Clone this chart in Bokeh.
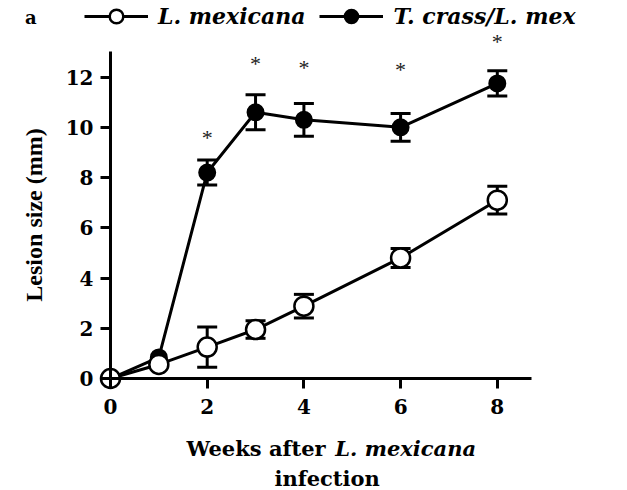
from bokeh.plotting import figure
from bokeh.models import (ColumnDataSource, Legend, LegendItem, Label, Range1d,
                          FixedTicker)
from bokeh.core.properties import value
from bokeh.embed import file_html
from bokeh.resources import INLINE

# Lesion size (mm) by weeks after L. mexicana infection
weeks = [0, 1, 2, 3, 4, 6, 8]
lmex_mean = [0.0, 0.56, 1.25, 1.95, 2.88, 4.80, 7.10]
lmex_err = [0.0, 0.0, 0.80, 0.35, 0.47, 0.38, 0.55]
tcrass_mean = [0.0, 0.84, 8.20, 10.60, 10.30, 10.00, 11.75]
tcrass_err = [0.0, 0.0, 0.50, 0.70, 0.65, 0.55, 0.50]

# significance markers
sig_weeks = [2, 3, 4, 6, 8]
sig_y = [9.8, 12.75, 12.6, 12.5, 13.6]

x_ticks = [0, 2, 4, 6, 8]
y_ticks = [0, 2, 4, 6, 8, 10, 12]

SERIF = "DejaVu Serif"

# the plotting frame spans the whole canvas; the axes cross at the origin
p = figure(width=627, height=490, output_backend="svg", toolbar_location=None,
           x_range=Range1d(-2.275, 10.693), y_range=Range1d(-4.459, 15.05),
           min_border_left=0, min_border_right=0,
           min_border_top=0, min_border_bottom=0)
p.outline_line_color = None
p.grid.visible = False
p.background_fill_color = "white"
p.border_fill_color = "white"

for ax in (p.xaxis[0], p.yaxis[0]):
    ax.fixed_location = 0
    ax.axis_line_width = 3
    ax.axis_line_color = "black"
    ax.major_tick_line_width = 3
    ax.major_tick_line_color = "black"
    ax.major_tick_in = 0
    ax.major_tick_out = 10
    ax.minor_tick_line_color = None
    ax.major_label_text_font = SERIF
    ax.major_label_text_font_style = "bold"
    ax.major_label_text_font_size = "20px"
    ax.major_label_text_color = "black"

p.xaxis.ticker = FixedTicker(ticks=x_ticks)
p.yaxis.ticker = FixedTicker(ticks=y_ticks)
p.xaxis.bounds = (0, 8.7)
p.yaxis.bounds = (0, 13.0)
p.xaxis.major_label_standoff = 10
p.yaxis.major_label_standoff = 7

p.yaxis.axis_label = "Lesion size (mm)"
p.yaxis.axis_label_text_font = "Liberation Serif"
p.yaxis.axis_label_text_font_style = "bold"
p.yaxis.axis_label_text_font_size = "24px"
p.yaxis.axis_label_text_color = "black"
p.yaxis.axis_label_standoff = 16


def errorbars(mean, err):
    xs = [w for w, e in zip(weeks, err) if e > 0]
    lo = [m - e for m, e in zip(mean, err) if e > 0]
    hi = [m + e for m, e in zip(mean, err) if e > 0]
    p.segment(x0=xs, y0=lo, x1=xs, y1=hi, line_width=3, line_color="black")
    p.scatter(x=xs + xs, y=lo + hi, marker="dash", size=20,
              line_width=3, line_color="black")


errorbars(tcrass_mean, tcrass_err)
errorbars(lmex_mean, lmex_err)

src_t = ColumnDataSource(dict(x=weeks, y=tcrass_mean))
src_l = ColumnDataSource(dict(x=weeks, y=lmex_mean))

line_t = p.line("x", "y", source=src_t, line_width=3, line_color="black")
line_l = p.line("x", "y", source=src_l, line_width=3, line_color="black")
dots_t = p.scatter("x", "y", source=src_t, marker="circle", size=16,
                   fill_color="black", line_color="black", line_width=2)
dots_l = p.scatter("x", "y", source=src_l, marker="circle", size=19,
                   fill_color="white", line_color="black", line_width=2.5)

p.text(x=sig_weeks, y=sig_y, text=["*"] * len(sig_weeks),
       text_font=value("Liberation Serif"), text_font_size="22px",
       text_color="#222222", text_align="center", text_baseline="middle",
       y_offset=5)

legend = Legend(items=[
    LegendItem(label="L. mexicana", renderers=[line_l, dots_l]),
    LegendItem(label="T. crass/L. mex", renderers=[line_t, dots_t]),
], orientation="horizontal", location=(84, 457),
    glyph_width=64, glyph_height=34, label_standoff=10, spacing=14,
    padding=0, margin=0, border_line_color=None, background_fill_alpha=0,
    label_text_font=SERIF, label_text_font_style="bold italic",
    label_text_font_size="22px", label_text_color="black")
p.add_layout(legend)

# panel letter
p.add_layout(Label(x=-1.65, y=14.37, text="a", text_font=SERIF,
                   text_font_style="bold", text_font_size="18px",
                   text_color="black",
                   text_align="center", text_baseline="middle"))

# x-axis title, with the species name in italics
title_kw = dict(text_font=SERIF, text_font_size="21px",
                text_baseline="middle", text_color="black")
p.add_layout(Label(x=4.45, y=-2.79, text="Weeks after", text_align="right",
                   text_font_style="bold", **title_kw))
p.add_layout(Label(x=4.65, y=-2.79, text="L. mexicana", text_align="left",
                   text_font_style="bold italic", **title_kw))
p.add_layout(Label(x=4.48, y=-3.98, text="infection", text_align="center",
                   text_font_style="bold", **title_kw))

open("out.html", "w").write(file_html(p, INLINE))
